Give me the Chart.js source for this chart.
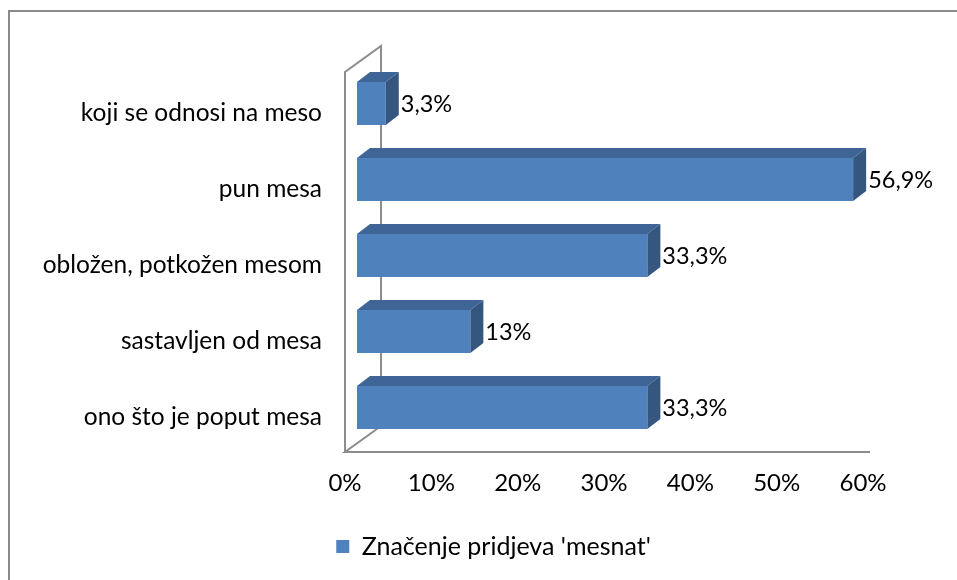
<!DOCTYPE html>
<html>
<head>
<meta charset="utf-8">
<script src="https://cdn.jsdelivr.net/npm/chart.js@4/dist/chart.umd.min.js"></script>
<style>
    html, body { margin: 0; padding: 0; background: #fff; }
    #wrap { position: relative; width: 957px; height: 580px; }
</style>
</head>
<body>
<div id="wrap"><canvas id="mesnatChart"></canvas></div>
<script>
// Podaci grafikona
const kategorije = [
    'koji se odnosi na meso',
    'pun mesa',
    'obložen, potkožen mesom',
    'sastavljen od mesa',
    'ono što je poput mesa'
];
const vrijednosti = [3.3, 56.9, 33.3, 13, 33.3];
const oznakeVrijednosti = ['3,3%', '56,9%', '33,3%', '13%', '33,3%'];
const nazivSerije = "Značenje pridjeva 'mesnat'";
const xMin = 0;
const xMax = 60;
const xKorak = 10;

const FONT = 'Lato, "Liberation Sans", sans-serif';
const BOJA_PREDNJA = '#4f81bd';
const BOJA_GORE = '#3e6595';
const BOJA_STRANA = '#35577f';
const BOJA_ZIDA = '#8c8c8c';

// pomak prednje strane stupca u dubinu i dubina samog stupca
const pomakStupca = { dx: 12, dy: -6.5, sx: 1.01 };
const dubinaStupca = { dx: 13, dy: -10 };
const dubinaZida = { dx: 36, dy: -26 };
// legenda je u originalu centrirana na cijelu sliku, ne na područje grafa
const pomakLegende = 62;

// Okvir oko cijelog grafikona
const okvirPlugin = {
    id: 'okvir',
    beforeDraw(chart) {
        const ctx = chart.ctx;
        ctx.save();
        ctx.strokeStyle = '#8a8a8a';
        ctx.lineWidth = 2;
        ctx.beginPath();
        ctx.moveTo(9, chart.height);
        ctx.lineTo(9, 11);
        ctx.lineTo(chart.width, 11);
        ctx.stroke();
        ctx.restore();
    }
};

// Pomak legende udesno
const legendaPlugin = {
    id: 'pomakLegende',
    afterLayout(chart) {
        if (chart.legend) {
            chart.legend.left += pomakLegende;
            chart.legend.right += pomakLegende;
        }
    }
};

// Zidovi i pod 3D prikaza
const zidoviPlugin = {
    id: 'zidovi',
    beforeDatasetsDraw(chart) {
        const ctx = chart.ctx;
        const xs = chart.scales.x;
        const ys = chart.scales.y;
        const x0 = xs.getPixelForValue(xMin);
        const top = ys.top;
        const bottom = ys.bottom;
        ctx.save();
        ctx.strokeStyle = BOJA_ZIDA;
        ctx.lineWidth = 2;
        ctx.beginPath();
        ctx.moveTo(x0, bottom);
        ctx.lineTo(x0, top);
        ctx.lineTo(x0 + dubinaZida.dx, top + dubinaZida.dy);
        ctx.lineTo(x0 + dubinaZida.dx, bottom + dubinaZida.dy);
        ctx.lineTo(x0, bottom);
        ctx.lineTo(xs.right + 7, bottom);
        ctx.stroke();
        ctx.restore();
    }
};

function pomakniKontekst(chart) {
    const ctx = chart.ctx;
    const x0 = chart.scales.x.getPixelForValue(xMin);
    ctx.translate(x0 + pomakStupca.dx, pomakStupca.dy);
    ctx.scale(pomakStupca.sx, 1);
    ctx.translate(-x0, 0);
}

// Pomak stupaca i crtanje gornje i bočne strane
const stupci3dPlugin = {
    id: 'stupci3d',
    beforeDatasetDraw(chart) {
        chart.ctx.save();
        pomakniKontekst(chart);
    },
    afterDatasetDraw(chart, args) {
        const ctx = chart.ctx;
        const meta = args.meta;
        meta.data.forEach((bar, i) => {
            const p = bar.getProps(['x', 'y', 'base', 'height'], true);
            const t = p.y - p.height / 2;
            const b = p.y + p.height / 2;
            const dx = dubinaStupca.dx / pomakStupca.sx;
            const dy = dubinaStupca.dy;
            ctx.fillStyle = BOJA_GORE;
            ctx.beginPath();
            ctx.moveTo(p.base, t);
            ctx.lineTo(p.base + dx, t + dy);
            ctx.lineTo(p.x + dx, t + dy);
            ctx.lineTo(p.x, t);
            ctx.closePath();
            ctx.fill();
            ctx.fillStyle = BOJA_STRANA;
            ctx.beginPath();
            ctx.moveTo(p.x, t);
            ctx.lineTo(p.x + dx, t + dy);
            ctx.lineTo(p.x + dx, b + dy);
            ctx.lineTo(p.x, b);
            ctx.closePath();
            ctx.fill();
        });
        ctx.restore();

        // oznake vrijednosti
        ctx.save();
        const x0 = chart.scales.x.getPixelForValue(xMin);
        ctx.font = '23.5px ' + FONT;
        ctx.fillStyle = '#000';
        ctx.textAlign = 'left';
        ctx.textBaseline = 'middle';
        meta.data.forEach((bar, i) => {
            const p = bar.getProps(['x', 'y'], true);
            const xe = x0 + pomakStupca.dx + pomakStupca.sx * (p.x - x0) + dubinaStupca.dx + 2;
            const ye = p.y + pomakStupca.dy + 1;
            ctx.fillText(oznakeVrijednosti[i], xe, ye);
        });
        ctx.restore();
    }
};

const ctx = document.getElementById('mesnatChart').getContext('2d');
new Chart(ctx, {
    type: 'bar',
    data: {
        labels: kategorije,
        datasets: [{
            label: nazivSerije,
            data: vrijednosti,
            backgroundColor: BOJA_PREDNJA,
            borderWidth: 0,
            categoryPercentage: 1,
            barPercentage: 0.565
        }]
    },
    options: {
        indexAxis: 'y',
        responsive: true,
        maintainAspectRatio: false,
        animation: false,
        layout: {
            padding: { top: 72, right: 94, bottom: 11, left: 0 }
        },
        scales: {
            x: {
                min: xMin,
                max: xMax,
                grid: { display: false },
                border: { display: false },
                ticks: {
                    stepSize: xKorak,
                    padding: 9,
                    color: '#000',
                    font: { family: FONT, size: 24 },
                    callback: v => v + '%'
                },
                afterFit(scale) { scale.height = 74; }
            },
            y: {
                grid: { display: false },
                border: { display: false },
                ticks: {
                    padding: 15,
                    labelOffset: 3,
                    color: '#000',
                    font: { family: FONT, size: 24.5 }
                },
                afterFit(scale) { scale.width = 345; }
            }
        },
        plugins: {
            legend: {
                position: 'bottom',
                labels: {
                    boxWidth: 13,
                    boxHeight: 13,
                    padding: 8,
                    color: '#000',
                    font: { family: FONT, size: 25 }
                }
            },
            tooltip: { enabled: false }
        }
    },
    plugins: [okvirPlugin, legendaPlugin, zidoviPlugin, stupci3dPlugin]
});
</script>
</body>
</html>
